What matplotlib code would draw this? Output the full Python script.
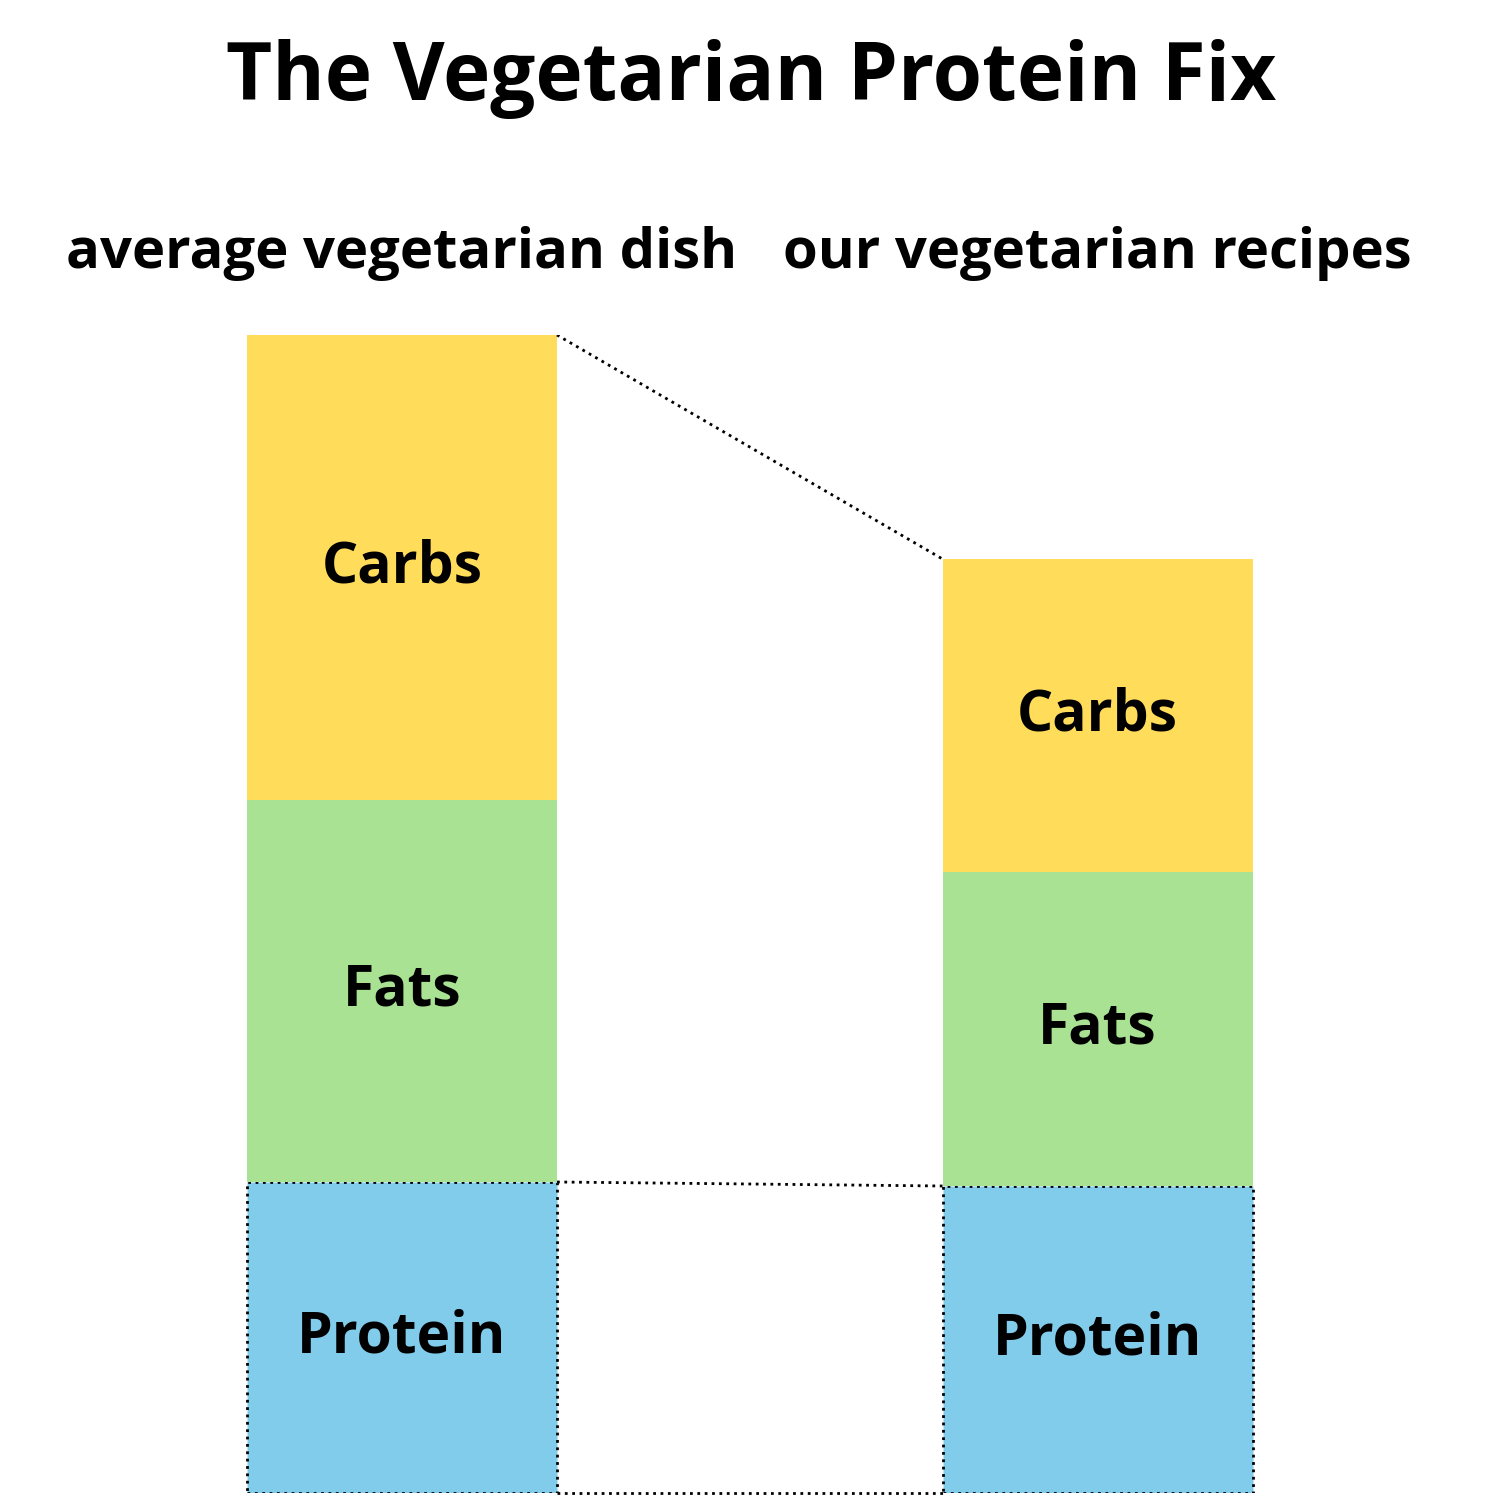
import matplotlib
matplotlib.use('Agg')
import matplotlib.pyplot as plt
import matplotlib.transforms as mtransforms

plt.rcParams['font.family'] = ['Open Sans', 'DejaVu Sans']

# data (arbitrary units)
groups = ['average vegetarian dish', 'our vegetarian recipes']
nutrients = ['Protein', 'Fats', 'Carbs']
protein = [311, 307]
fats = [382, 314]
carbs = [465, 313]
colors = {'Protein': '#81CCEB', 'Fats': '#A9E292', 'Carbs': '#FFDC5A'}

fig = plt.figure(figsize=(15, 15), dpi=100)
total_left = protein[0] + fats[0] + carbs[0]
ax = fig.add_axes([0, 7 / 1500, 1, total_left / 1500])
ax.set_ylim(0, total_left)
ax.set_xlim(-402 / 695.5, (1500 - 402) / 695.5)
ax.axis('off')

w = 310 / 695.5
x = [0, 1]
bottoms = [0, 0]
for name, vals in zip(nutrients, [protein, fats, carbs]):
    if name == 'Protein':
        ax.bar(x, vals, width=w, bottom=bottoms, color=colors[name],
               edgecolor='black', linestyle=':', linewidth=2)
    else:
        ax.bar(x, vals, width=w, bottom=bottoms, color=colors[name], linewidth=0)
    for i in range(2):
        ax.text(x[i], bottoms[i] + vals[i] / 2, name, ha='center', va='center',
                fontsize=41, fontweight='bold', color='black')
    bottoms = [bottoms[i] + vals[i] for i in range(2)]

# dotted connectors
tops = bottoms
ax.plot([x[0] + w / 2, x[1] - w / 2], [tops[0], tops[1]], color='black',
        linestyle=':', linewidth=2)
ax.plot([x[0] + w / 2, x[1] - w / 2], [protein[0], protein[1]], color='black',
        linestyle=':', linewidth=2)
ax.plot([x[0] + w / 2, x[1] - w / 2], [0, 0], color='black',
        linestyle=':', linewidth=2, clip_on=False)

trans = mtransforms.blended_transform_factory(ax.transData, fig.transFigure)
for i, g in enumerate(groups):
    ax.text(x[i], 1 - 268 / 1500, g, transform=trans,
            ha='center', va='baseline', fontsize=40.5, fontweight='bold')

fig.text(751 / 1500, 1 - 100 / 1500, 'The Vegetarian Protein Fix', ha='center',
         va='baseline', fontsize=57.5, fontweight='bold')

fig.savefig('out.png', dpi=100, facecolor='white')
